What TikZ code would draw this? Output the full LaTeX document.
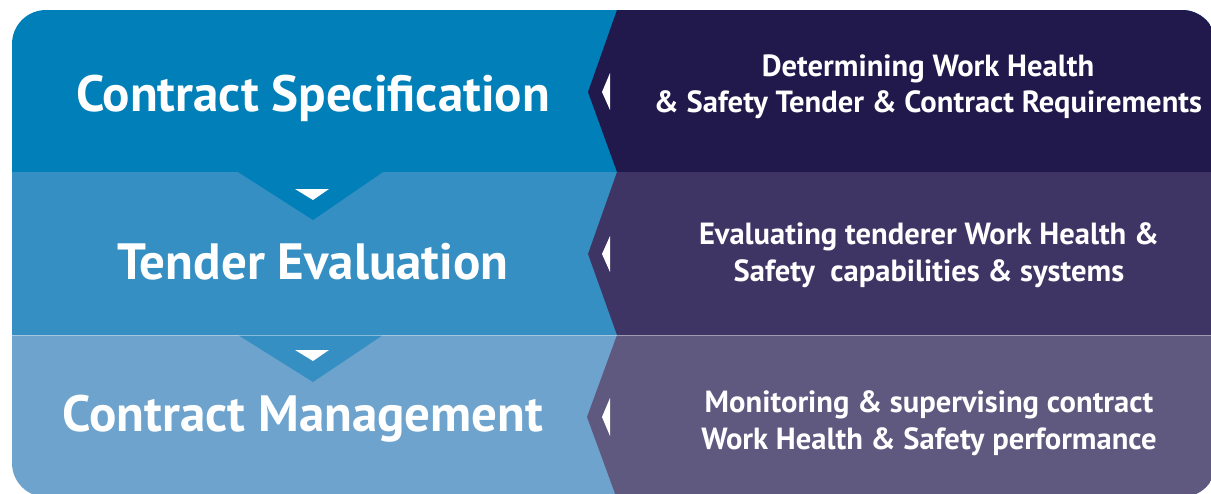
\documentclass[tikz,border=0pt]{standalone}
\usepackage{fontspec}
\setmainfont{PT Sans}
\definecolor{lA}{RGB}{0,127,184}
\definecolor{lB}{RGB}{54,143,194}
\definecolor{lC}{RGB}{109,163,205}
\definecolor{rA}{RGB}{33,24,75}
\definecolor{rB}{RGB}{62,53,100}
\definecolor{rC}{RGB}{95,88,127}
\newcommand\leftfnt{\fontsize{51}{58}\selectfont\bfseries}
\newcommand\rightfnt{\fontsize{30.6}{36.5}\selectfont\bfseries}
\tikzset{
  lefttxt/.style={text=white,font=\leftfnt,inner sep=0pt,anchor=base},
  righttxt/.style={text=white,font=\rightfnt,align=center,inner sep=0pt},
  marker/.style={fill=white},
}
\begin{document}
\begin{tikzpicture}[x=1pt,y=-1pt]
\useasboundingbox (0,0) rectangle (1211,493);
\begin{scope}
\clip[rounded corners=34pt] (12,10) rectangle (1216,497);
\fill[lA] (12,10) rectangle (1216,172);
\fill[lB] (12,172) rectangle (1216,335);
\fill[lC] (12,335) rectangle (1216,497);
\fill[lA] (238,172) -- (313,220) -- (383,172) -- cycle;
\fill[lB] (238,335) -- (313,382) -- (383,335) -- cycle;
\fill[rA] (617,10) -- (1216,10) -- (1216,172) -- (617,172) -- (588,92) -- cycle;
\fill[rB] (617,172) -- (1216,172) -- (1216,335) -- (617,335) -- (588,254) -- cycle;
\fill[rC] (617,335) -- (1216,335) -- (1216,499) -- (617,499) -- (587,417) -- cycle;
\draw[white,opacity=0.4,line width=1pt] (12,335) -- (1216,335);
\end{scope}
% down markers
\fill[marker] (295,189) -- (329,189) -- (313,200) -- cycle;
\fill[marker] (295,350) -- (329,350) -- (313,361) -- cycle;
% left markers
\fill[marker] (610,73) -- (602,92) -- (610,110) -- cycle;
\fill[marker] (610,236) -- (602,254) -- (610,272) -- cycle;
\fill[marker] (610,398) -- (602,417) -- (610,436) -- cycle;
% texts
\node[lefttxt] (spec) at (313,111) {Contract Specification};
\node[lefttxt] (eval) at (313,279) {Tender Evaluation};
\node[lefttxt] (mgmt) at (303,431) {Contract Management};
\node[righttxt] (specd) at (928,87) {Determining Work Health\\\& Safety Tender \& Contract Requirements};
\node[righttxt] (evald) at (929,255) {Evaluating tenderer Work Health \&\\Safety\ \ capabilities \& systems};
\node[righttxt] (mgmtd) at (929,423) {Monitoring \& supervising contract\\Work Health \& Safety performance};
\end{tikzpicture}
\end{document}
